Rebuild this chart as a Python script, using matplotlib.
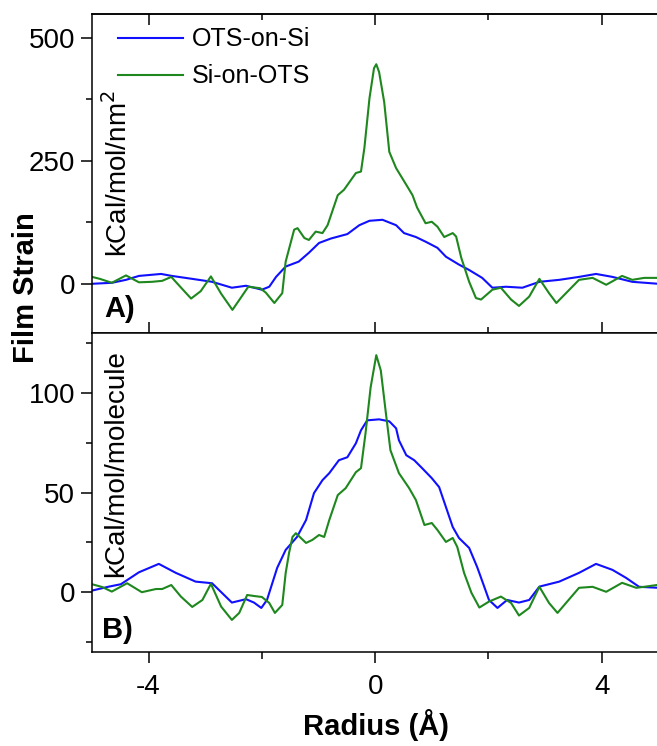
import numpy as np
import matplotlib
matplotlib.use("Agg")
import matplotlib.pyplot as plt
from matplotlib.ticker import MultipleLocator

plt.rcParams['font.family'] = ['Liberation Sans', 'DejaVu Sans']
plt.rcParams['axes.unicode_minus'] = False
plt.rcParams['lines.solid_joinstyle'] = 'round'

# panel A: strain per area (kCal/mol/nm^2)
a_green_x = [-5.0, -4.86, -4.65, -4.4, -4.17, -3.94, -3.76, -3.6, -3.41, -3.25, -3.08, -2.9, -2.72,
             -2.52, -2.4, -2.24, -2.03, -1.93, -1.78, -1.64, -1.58, -1.43, -1.37, -1.25, -1.17,
             -1.05, -0.93, -0.84, -0.66, -0.55, -0.34, -0.25, -0.19, -0.10, -0.02, 0.02, 0.07,
             0.16, 0.25, 0.37, 0.55, 0.66, 0.74, 0.89, 1.0, 1.1, 1.22, 1.37, 1.43, 1.52, 1.66,
             1.78, 1.87, 2.07, 2.22, 2.40, 2.54, 2.72, 2.9, 3.07, 3.20, 3.37, 3.60, 3.84, 4.08,
             4.36, 4.54, 4.75, 5.0]
a_green_y = [14, 10, 2, 17, 3, 4, 6, 14, -10, -30, -15, 15, -20,
             -53, -33, -6, -9, -18, -39, -19, 45, 110, 113, 93, 89,
             106, 103, 119, 180, 191, 225, 228, 276, 377, 438, 446, 430,
             369, 268, 235, 201, 180, 155, 123, 126, 116, 95, 103, 96, 53, 4,
             -29, -32, -12, -8, -32, -45, -26, 10, -19, -39, -19, 8, 12, -2,
             16, 8, 12, 12]

a_blue_x = [-5.0, -4.65, -4.4, -4.17, -3.78, -3.59, -3.23, -2.88, -2.53, -2.28, -2.0, -1.87,
            -1.75, -1.58, -1.35, -1.17, -0.99, -0.78, -0.49, -0.28, -0.1, 0.13, 0.37, 0.51,
            0.72, 0.9, 1.1, 1.25, 1.48, 1.66, 1.89, 2.07, 2.31, 2.6, 2.9, 3.25, 3.6, 3.9,
            4.19, 4.54, 5.0]
a_blue_y = [0, 2, 8, 16, 20, 16, 10, 4, -8, -4, -12, -6,
            14, 35, 45, 63, 83, 92, 101, 119, 128, 130, 119, 103,
            95, 85, 73, 55, 39, 28, 12, -8, -6, -8, 4, 8, 14, 20,
            14, 4, 0]

# panel B: strain per molecule (kCal/mol/molecule)
b_green_x = [-5.0, -4.82, -4.65, -4.38, -4.12, -3.87, -3.76, -3.6, -3.43, -3.23, -3.05, -2.9,
             -2.72, -2.53, -2.4, -2.26, -2.14, -2.0, -1.87, -1.77, -1.64, -1.58, -1.52, -1.46,
             -1.40, -1.22, -1.11, -0.99, -0.9, -0.81, -0.66, -0.52, -0.34, -0.25, -0.17, -0.08,
             0.02, 0.1, 0.19, 0.27, 0.42, 0.6, 0.72, 0.87, 1.0, 1.1, 1.25, 1.37, 1.45, 1.57,
             1.70, 1.84, 2.01, 2.22, 2.40, 2.54, 2.72, 2.9, 3.07, 3.22, 3.37, 3.6, 3.84, 4.08,
             4.36, 4.61, 4.75, 5.0]
b_green_y = [4, 2.6, 0.3, 4.5, 0, 1.6, 1.6, 3.6, -2.2, -7.4, -3.9, 4.2,
             -7.2, -13.9, -10.4, -1.4, -1.9, -2.4, -5.4, -10.4, -6.4, 9.6, 19.7, 27.7,
             29.6, 24.7, 26.2, 28.7, 27.7, 36.2, 48.7, 52.2, 60.2, 62.2, 79.7, 102.7,
             118.9, 111.2, 89.7, 71.2, 59.7, 52.2, 46.2, 33.7, 34.7, 31.2, 25.2, 27.2, 22.7, 9.7,
             -0.3, -7.7, -4.7, -2.2, -5.4, -11.7, -7.9, 2.7, -5.4, -10.4, -5.4, 2.2, 2.7, 0.2,
             4.7, 2.2, 2.7, 3.7]

b_blue_x = [-5.0, -4.7, -4.49, -4.17, -3.82, -3.52, -3.17, -2.88, -2.53, -2.28, -2.14, -2.01,
            -1.91, -1.73, -1.58, -1.38, -1.22, -1.08, -0.93, -0.81, -0.64, -0.49, -0.34, -0.25,
            -0.14, 0.07, 0.25, 0.37, 0.42, 0.55, 0.69, 0.83, 1.0, 1.13, 1.25, 1.37, 1.48, 1.66,
            1.80, 1.86, 2.01, 2.16, 2.33, 2.54, 2.72, 2.9, 3.25, 3.60, 3.90, 4.19, 4.43, 4.66, 5.0]
b_blue_y = [0.8, 2.8, 4, 10, 14.2, 9.7, 5.3, 4.5, -5.2, -3.5, -5.2, -7.9,
            -3.9, 12.2, 21.2, 27.7, 36.2, 49.7, 56.2, 59.7, 66.2, 67.7, 74.7, 81.2,
            86.2, 86.7, 85.7, 82.2, 76.2, 68.7, 66.2, 62.2, 57.2, 52.7, 42.7, 32.7, 27.2, 22.2,
            12.7, 8, -3.9, -7.9, -3.9, -5.2, -3.9, 2.8, 5.3, 9.7, 14.2, 11.2, 7.2, 2.7, 2.2]

blue = '#1010ff'
green = '#1e871e'

fig = plt.figure(figsize=(6.57, 7.46), dpi=100)
ax1 = fig.add_axes([0.140, 0.5536, 0.862, 0.4276])
ax2 = fig.add_axes([0.140, 0.126, 0.862, 0.4276], sharex=ax1)

ax1.plot(a_blue_x, a_blue_y, color=blue, lw=1.5, label='OTS-on-Si')
ax1.plot(a_green_x, a_green_y, color=green, lw=1.5, label='Si-on-OTS')
ax2.plot(b_blue_x, b_blue_y, color=blue, lw=1.5)
ax2.plot(b_green_x, b_green_y, color=green, lw=1.5)

ax1.set_xlim(-5, 5)
ax1.set_ylim(-100, 548)
ax2.set_ylim(-30, 130)

for ax in (ax1, ax2):
    ax.spines['right'].set_visible(False)
    for s in ax.spines.values():
        s.set_linewidth(1.1)
    ax.xaxis.set_major_locator(MultipleLocator(4))
    ax.xaxis.set_minor_locator(MultipleLocator(2))
    ax.tick_params(axis='y', which='major', direction='out', length=8, width=1.1,
                   labelsize=20, pad=4)
    ax.tick_params(axis='y', which='minor', direction='out', length=4, width=1.1)

ax1.yaxis.set_major_locator(MultipleLocator(250))
ax1.yaxis.set_minor_locator(MultipleLocator(125))
ax2.yaxis.set_major_locator(MultipleLocator(50))
ax2.yaxis.set_minor_locator(MultipleLocator(25))

# top panel: inward ticks on top, ticks crossing the shared border
ax1.tick_params(axis='x', which='major', direction='inout', length=16, width=1.1,
                labelbottom=False)
ax1.tick_params(axis='x', which='minor', direction='inout', length=9, width=1.1)
top = ax1.secondary_xaxis('top')
top.xaxis.set_major_locator(MultipleLocator(4))
top.xaxis.set_minor_locator(MultipleLocator(2))
top.tick_params(axis='x', which='major', direction='in', length=8, width=1.1, labeltop=False)
top.tick_params(axis='x', which='minor', direction='in', length=4, width=1.1)
top.spines['top'].set_linewidth(1.1)

ax2.tick_params(axis='x', which='major', direction='out', length=8, width=1.1,
                labelsize=20, pad=8)
ax2.tick_params(axis='x', which='minor', direction='out', length=5, width=1.1)

ax1.legend(loc='upper left', bbox_to_anchor=(0.046, 0.958), frameon=False, fontsize=18,
           handlelength=2.6, handletextpad=0.35, borderpad=0, borderaxespad=0,
           labelspacing=0.52)

ax1.text(0.02, 0.238, 'kCal/mol/nm$^2$', transform=ax1.transAxes, rotation=90,
         ha='left', va='bottom', fontsize=20)
ax2.text(0.02, 0.235, 'kCal/mol/molecule', transform=ax2.transAxes, rotation=90,
         ha='left', va='bottom', fontsize=20)

ax1.text(0.021, 0.05, 'A)', transform=ax1.transAxes, fontsize=21, fontweight='bold',
         ha='left', va='baseline')
ax2.text(0.018, 0.044, 'B)', transform=ax2.transAxes, fontsize=21, fontweight='bold',
         ha='left', va='baseline')

fig.text(0.040, 0.615, 'Film Strain', rotation=90, ha='center', va='center',
         fontsize=21, fontweight='bold')
fig.text(0.572, 0.028, 'Radius (Å)', ha='center', va='center', fontsize=21,
         fontweight='bold')

fig.savefig('out.png', dpi=100)
